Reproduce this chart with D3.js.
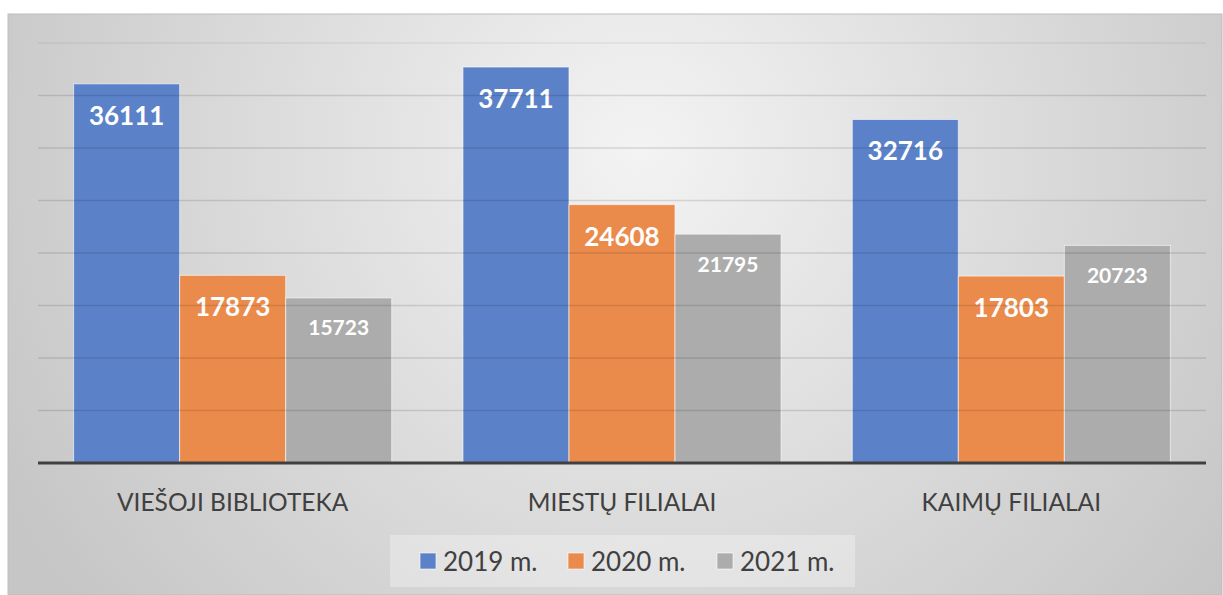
<!DOCTYPE html>
<html>
<head>
<meta charset="utf-8">
<script src="https://cdn.jsdelivr.net/npm/d3@7"></script>
<style>
  body { margin: 0; background: #fff; }
  svg { display: block; font-family: Lato, "Open Sans", sans-serif; }
</style>
</head>
<body>
<div id="chart"></div>
<script>
const categories = ["VIEŠOJI BIBLIOTEKA", "MIESTŲ FILIALAI", "KAIMŲ FILIALAI"];
const seriesNames = ["2019 m.", "2020 m.", "2021 m."];
const values2019 = [36111, 37711, 32716];
const values2020 = [17873, 24608, 17803];
const values2021 = [15723, 21795, 20723];
const yTicks = [0, 5000, 10000, 15000, 20000, 25000, 30000, 35000, 40000];

const colors = ["#5b82c9", "#eb8b4b", "#acacac"];
const labelSize = [26, 26, 21];

const width = 1223, height = 595;
const frame = { left: 8, top: 14, right: 1222, bottom: 595 };
const plot = { left: 38, right: 1206, top: 43, bottom: 463 };

const seriesValues = [values2019, values2020, values2021];

const svg = d3.select("#chart").append("svg")
  .attr("width", width)
  .attr("height", height);

// background gradient like the office chart
const defs = svg.append("defs");
const grad = defs.append("radialGradient")
  .attr("id", "bg")
  .attr("gradientUnits", "userSpaceOnUse")
  .attr("cx", 640).attr("cy", 150).attr("r", 720);
grad.append("stop").attr("offset", "0%").attr("stop-color", "#f3f3f3");
grad.append("stop").attr("offset", "100%").attr("stop-color", "#c6c6c6");

svg.append("rect")
  .attr("x", frame.left).attr("y", frame.top)
  .attr("width", frame.right - frame.left)
  .attr("height", frame.bottom - frame.top)
  .attr("fill", "url(#bg)")
  .attr("stroke", "#bdbdbd")
  .attr("stroke-width", 1);

const x0 = d3.scaleBand()
  .domain(categories)
  .range([plot.left, plot.right])
  .paddingInner(0.183)
  .paddingOuter(0.0915);

const x1 = d3.scaleBand()
  .domain(seriesNames)
  .range([0, x0.bandwidth()]);

const y = d3.scaleLinear()
  .domain([0, 40000])
  .range([plot.bottom, plot.top]);

// bars
const groups = svg.append("g")
  .selectAll("g")
  .data(categories)
  .join("g")
  .attr("transform", (d) => `translate(${x0(d)},0)`);

groups.selectAll("rect")
  .data((d, i) => seriesNames.map((s, j) => ({ s, j, v: seriesValues[j][i] })))
  .join("rect")
  .attr("x", (d) => x1(d.s))
  .attr("y", (d) => y(d.v))
  .attr("width", x1.bandwidth())
  .attr("height", (d) => y(0) - y(d.v))
  .attr("fill", (d) => colors[d.j])
  .attr("stroke", "rgba(255,255,255,0.6)")
  .attr("stroke-width", 1);

// gridlines, drawn over bars (they show through in the original)
svg.append("g")
  .selectAll("line")
  .data(yTicks.slice(1))
  .join("line")
  .attr("x1", plot.left).attr("x2", plot.right)
  .attr("y1", (d) => y(d)).attr("y2", (d) => y(d))
  .attr("stroke", "#000")
  .attr("stroke-opacity", (d) => (d === 40000 ? 0.06 : 0.12))
  .attr("stroke-width", 1.5);

// baseline
svg.append("line")
  .attr("x1", plot.left).attr("x2", plot.right)
  .attr("y1", y(0)).attr("y2", y(0))
  .attr("stroke", "#404040")
  .attr("stroke-width", 3);

// data labels
groups.selectAll("text")
  .data((d, i) => seriesNames.map((s, j) => ({ s, j, v: seriesValues[j][i] })))
  .join("text")
  .attr("x", (d) => x1(d.s) + x1.bandwidth() / 2)
  .attr("y", (d) => y(d.v) + (d.j === 2 ? 29 : 31))
  .attr("text-anchor", "middle")
  .attr("dominant-baseline", "central")
  .attr("fill", "#fff")
  .attr("font-weight", "bold")
  .attr("font-size", (d) => labelSize[d.j])
  .text((d) => d.v);

// category axis labels
svg.append("g")
  .selectAll("text")
  .data(categories)
  .join("text")
  .attr("x", (d) => x0(d) + x0.bandwidth() / 2)
  .attr("y", 501)
  .attr("text-anchor", "middle")
  .attr("dominant-baseline", "central")
  .attr("fill", "#404040")
  .attr("font-size", 24.5)
  .text((d) => d);

// legend
const legend = svg.append("g");
legend.append("rect")
  .attr("x", 390).attr("y", 535)
  .attr("width", 465).attr("height", 52)
  .attr("fill", "#fff")
  .attr("fill-opacity", 0.3);

const legendX = [420, 568, 717];
const item = legend.selectAll("g")
  .data(seriesNames)
  .join("g")
  .attr("transform", (d, i) => `translate(${legendX[i]},553)`);

item.append("rect")
  .attr("width", 16).attr("height", 16)
  .attr("fill", (d, i) => colors[i])
  .attr("stroke", "rgba(255,255,255,0.6)");

item.append("text")
  .attr("x", 23)
  .attr("y", 8)
  .attr("dominant-baseline", "central")
  .attr("fill", "#404040")
  .attr("font-size", 26)
  .text((d) => d);
</script>
</body>
</html>
